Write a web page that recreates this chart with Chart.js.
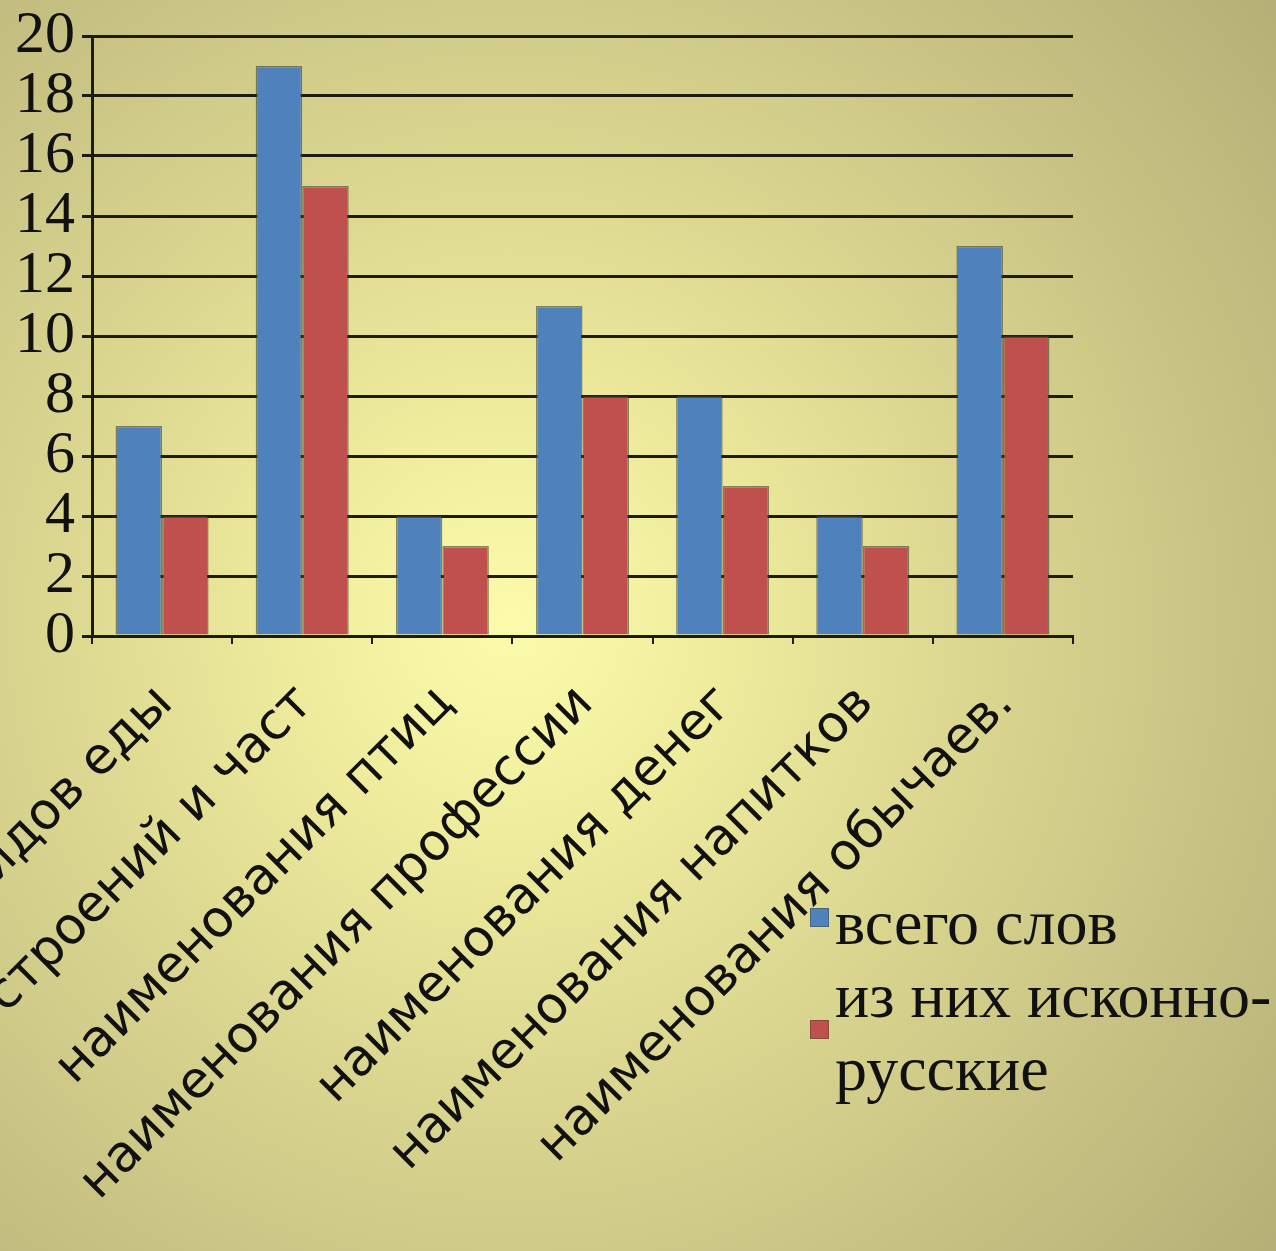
<!DOCTYPE html>
<html>
<head>
<meta charset="utf-8">
<script src="https://cdn.jsdelivr.net/npm/chart.js@4.4.1/dist/chart.umd.min.js"></script>
<style>
    html, body { margin: 0; padding: 0; }
    body {
        width: 1276px;
        height: 1251px;
        overflow: hidden;
        position: relative;
        background: radial-gradient(circle farthest-corner at 40% 50%, #fcfbab 0%, #eeeb9d 22%, #dcd891 45%, #cac585 70%, #b5af77 100%);
    }
    #wrap { position: absolute; left: 0; top: 0; width: 1276px; height: 1251px; }
    #legend {
        position: absolute;
        left: 810px;
        top: 886px;
        font-family: "Liberation Serif", serif;
        font-size: 64px;
        line-height: 73px;
        color: #111;
        white-space: nowrap;
    }
    .item { position: relative; padding-left: 25px; }
    .swatch { position: absolute; left: 0; width: 19px; height: 19px; box-sizing: border-box; border: 1px solid rgba(70,70,50,0.5); }
</style>
</head>
<body>
<div id="wrap"><canvas id="chart"></canvas></div>
<div id="legend"></div>
<script>
const categories = [
    'наименования видов еды',
    'наименования строений и част',
    'наименования птиц',
    'наименования профессии',
    'наименования денег',
    'наименования напитков',
    'наименования обычаев.'
];
const totalWords = [7, 19, 4, 11, 8, 4, 13];
const nativeWords = [4, 15, 3, 8, 5, 3, 10];
const seriesNames = ['всего слов', 'из них исконно-русские'];
const seriesColors = ['#4f81bd', '#c0504d'];
const yMin = 0;
const yMax = 20;
const yStep = 2;

const axisColor = '#1c1c12';

function buildLegend() {
    const legend = document.getElementById('legend');
    seriesNames.forEach((name, i) => {
        const lines = name.split(/(?<=-)/);
        const item = document.createElement('div');
        item.className = 'item';
        item.innerHTML = lines.join('<br>');
        const swatch = document.createElement('span');
        swatch.className = 'swatch';
        swatch.style.background = seriesColors[i];
        swatch.style.top = lines.length > 1 ? '61px' : '22px';
        item.appendChild(swatch);
        legend.appendChild(item);
    });
}

const ctx = document.getElementById('chart').getContext('2d');
new Chart(ctx, {
    type: 'bar',
    data: {
        labels: categories,
        datasets: [
            {
                label: seriesNames[0],
                data: totalWords,
                backgroundColor: seriesColors[0],
                borderColor: 'rgba(60,60,45,0.6)',
                borderWidth: 1.5,
                categoryPercentage: 0.664,
                barPercentage: 1.0
            },
            {
                label: seriesNames[1],
                data: nativeWords,
                backgroundColor: seriesColors[1],
                borderColor: 'rgba(60,60,45,0.6)',
                borderWidth: 1.5,
                categoryPercentage: 0.664,
                barPercentage: 1.0
            }
        ]
    },
    options: {
        responsive: true,
        maintainAspectRatio: false,
        animation: false,
        layout: {
            padding: { left: 0, right: 203, top: 36, bottom: 0 }
        },
        plugins: {
            legend: { display: false },
            tooltip: { enabled: false }
        },
        scales: {
            x: {
                ticks: {
                    font: { family: 'DejaVu Sans', size: 51 },
                    color: '#111',
                    minRotation: 45,
                    maxRotation: 45,
                    autoSkip: false,
                    padding: 30,
                    labelOffset: 3
                },
                grid: {
                    drawOnChartArea: false,
                    drawTicks: true,
                    tickLength: 8,
                    color: axisColor,
                    lineWidth: 2
                },
                border: { display: true, color: axisColor, width: 3 },
                afterFit(scale) {
                    scale.height = 615;
                    scale.paddingLeft = 0;
                    scale.paddingRight = 0;
                }
            },
            y: {
                min: yMin,
                max: yMax,
                ticks: {
                    stepSize: yStep,
                    autoSkip: false,
                    font: { family: 'Liberation Serif', size: 60, lineHeight: 1 },
                    color: '#111',
                    padding: 7
                },
                grid: {
                    color: axisColor,
                    lineWidth: 3,
                    tickLength: 10
                },
                border: { display: true, color: axisColor, width: 3 },
                afterFit(scale) {
                    scale.width = 92;
                    scale.paddingTop = 0;
                    scale.paddingBottom = 0;
                }
            }
        }
    }
});

buildLegend();
</script>
</body>
</html>
